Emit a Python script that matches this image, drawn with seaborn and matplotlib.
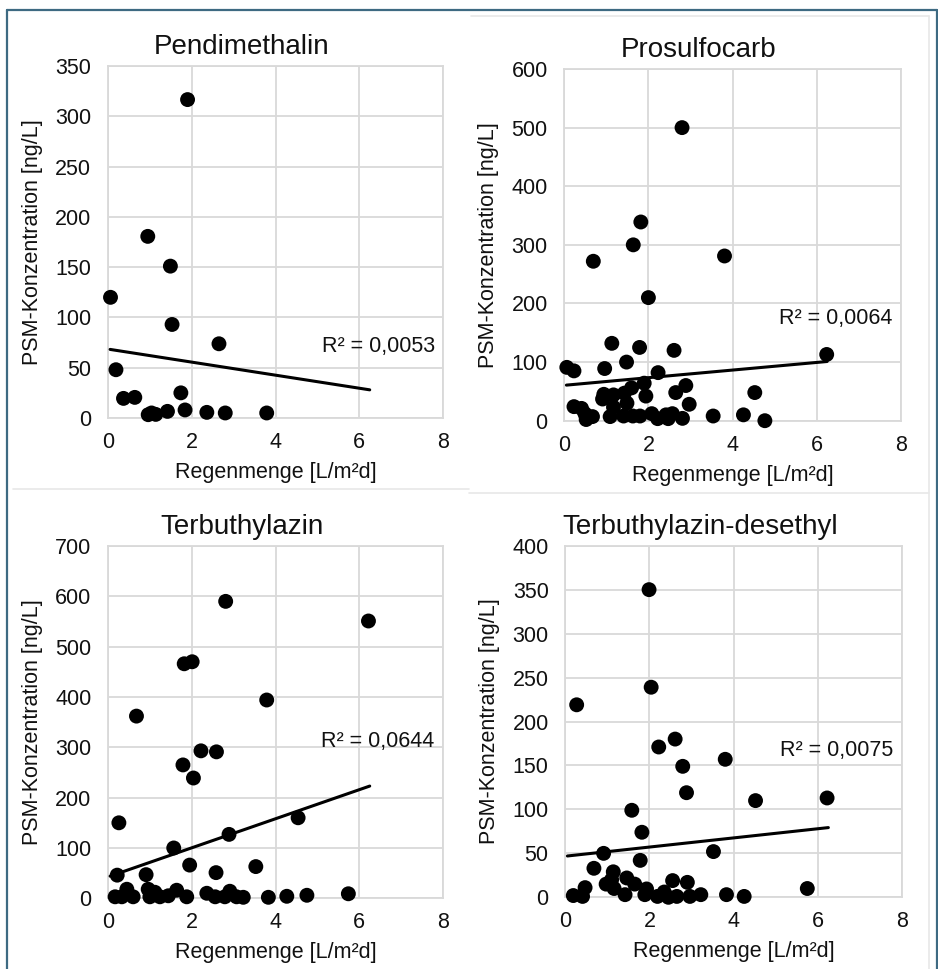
import numpy as np
import pandas as pd
import matplotlib
matplotlib.use('Agg')
import matplotlib.pyplot as plt
import seaborn as sns
from matplotlib.lines import Line2D

# ==============================================================================
# DATA
# ==============================================================================
pendi_x = [0.06, 0.19, 0.37, 0.64, 0.95, 0.96, 1.04, 1.14, 1.42, 1.49, 1.53, 1.74,
           1.84, 1.90, 2.36, 2.65, 2.80, 3.79]
pendi_y = [120, 48, 19.5, 20.5, 180.6, 3.3, 5, 3.6, 6.6, 151, 93, 25,
           8, 316.6, 5.6, 73.8, 5, 5]

prosulf_x = [2.80, 1.82, 1.64, 0.69, 3.81, 2.00, 1.13, 1.79, 2.61, 6.24, 0.06, 0.23,
             0.96, 1.48, 2.23, 1.90, 1.60, 2.89, 2.65, 4.53, 1.94, 0.94, 1.17, 0.91,
             1.43, 1.49, 2.97, 0.23, 0.41, 0.49, 0.67, 0.52, 1.09, 1.17, 1.41, 1.63,
             1.80, 2.08, 2.22, 2.42, 2.47, 2.57, 2.81, 3.54, 4.26, 4.77]
prosulf_y = [500, 339, 300, 272, 281, 210, 132, 125, 120, 113, 91, 85,
             89, 100, 82, 64, 56, 60, 48, 48, 42, 45, 44, 37,
             47, 30, 28, 24, 21, 12, 7, 2, 7, 23, 8, 8,
             8, 12, 3.5, 10, 3.5, 12, 4, 8, 10, 0]

terbu_x = [2.81, 6.22, 1.82, 2.01, 3.79, 0.68, 2.22, 2.59, 1.79, 2.04, 0.26, 4.54,
           2.89, 1.57, 1.95, 3.53, 2.58, 0.22, 0.91,
           0.17, 0.33, 0.45, 0.60, 0.96, 1.00, 1.12, 1.24, 1.44, 1.64, 1.88, 2.36,
           2.56, 2.79, 2.91, 3.07, 3.23, 3.83, 4.27, 4.75, 5.74]
terbu_y = [590, 551, 466, 470, 394, 362, 293, 291, 265, 239, 150, 160,
           127, 100, 66, 63, 51, 46, 47,
           3, 3, 18, 3, 18, 3, 12, 3, 5, 16, 3, 10,
           3, 3, 14, 3, 2, 2, 4, 6, 9]

desethyl_x = [1.99, 2.04, 0.27, 2.61, 2.22, 3.80, 2.79, 2.88, 4.52, 6.22, 1.58, 1.82,
              0.91, 3.52, 1.78, 0.68, 1.14, 5.75,
              0.19, 0.41, 0.47, 0.97, 1.10, 1.16, 1.42, 1.46, 1.65, 1.89, 1.93, 2.19,
              2.35, 2.45, 2.55, 2.65, 2.90, 2.96, 3.22, 3.83, 4.25]
desethyl_y = [350, 239, 219, 180, 171, 157, 149, 119, 110, 113, 99, 74,
              50, 52, 42, 33, 29, 10,
              2, 1, 11, 15, 20, 10, 3, 22, 15, 3, 9.5, 1,
              6, 0, 19, 1, 17, 1, 3, 3, 1]

# linear trend lines (endpoints)
trend_x = [0.05, 6.25]
pendi_trend = [68.2, 28]
prosulf_trend = [60.7, 101]
terbu_trend = [44, 223]
desethyl_trend = [47, 79.3]

titles = ['Pendimethalin', 'Prosulfocarb', 'Terbuthylazin', 'Terbuthylazin-desethyl']
r2_labels = ['R² = 0,0053', 'R² = 0,0064', 'R² = 0,0644', 'R² = 0,0075']
r2_y = [70.6, 175, 311, 166.6]
y_max = [350, 600, 700, 400]
y_step = [50, 100, 100, 50]

panels = [
    (pendi_x, pendi_y, pendi_trend),
    (prosulf_x, prosulf_y, prosulf_trend),
    (terbu_x, terbu_y, terbu_trend),
    (desethyl_x, desethyl_y, desethyl_trend),
]

# ==============================================================================
# STYLE
# ==============================================================================
sns.set_style('white')
plt.rcParams['font.family'] = ['Liberation Sans', 'DejaVu Sans']

W, H = 938, 969
fig = plt.figure(figsize=(W / 100, H / 100), dpi=100)

# axes boxes in pixels: left, top, right, bottom
boxes = [
    (108, 66, 443, 418),
    (564.3, 69, 900.7, 420.7),
    (108, 546, 443, 898.3),
    (565.3, 545.7, 902, 897.3),
]

GRID = '#D9D9D9'
TXT = '#111111'

for i, (xs, ys, trend) in enumerate(panels):
    l, t, r, b = boxes[i]
    ax = fig.add_axes([l / W, 1 - b / H, (r - l) / W, (b - t) / H])
    df = pd.DataFrame({'x': xs, 'y': ys})
    sns.scatterplot(data=df, x='x', y='y', ax=ax, color='black', s=115,
                    edgecolor='none', clip_on=False, zorder=3)
    tdf = pd.DataFrame({'x': trend_x, 'y': trend})
    sns.lineplot(data=tdf, x='x', y='y', ax=ax, color='black', lw=2.2, zorder=4)

    ax.set_xlim(0, 8)
    ax.set_ylim(0, y_max[i])
    ax.set_xticks(np.arange(0, 9, 2))
    ax.set_yticks(np.arange(0, y_max[i] + 1, y_step[i]))
    ax.grid(True, color=GRID, lw=1.3)
    ax.set_axisbelow(True)
    for sp in ax.spines.values():
        sp.set_color(GRID)
        sp.set_linewidth(1.3)
    ax.tick_params(length=0, labelsize=15.5, colors=TXT)
    ax.tick_params(axis='x', pad=10)
    ax.tick_params(axis='y', pad=12)

    ax.set_xlabel('Regenmenge [L/m²d]', fontsize=15.5, color=TXT)
    ax.set_ylabel('PSM-Konzentration [ng/L]', fontsize=15.5, color=TXT)
    ax.xaxis.set_label_coords(0.5, -0.125)
    ax.yaxis.set_label_coords(-0.195, 0.5)

    ax.text(0.40, 1 + 12 / (b - t), titles[i], transform=ax.transAxes,
            ha='center', va='baseline', fontsize=20, color=TXT)
    ax.text(7.8, r2_y[i], r2_labels[i], ha='right', va='center',
            fontsize=15.5, color=TXT)

# ==============================================================================
# FRAME AND CHART BORDERS
# ==============================================================================
def hline(y, x0, x1, color, lw):
    fig.add_artist(Line2D([x0 / W, x1 / W], [1 - y / H, 1 - y / H],
                          transform=fig.transFigure, color=color, lw=lw))

def vline(x, y0, y1, color, lw):
    fig.add_artist(Line2D([x / W, x / W], [1 - y0 / H, 1 - y1 / H],
                          transform=fig.transFigure, color=color, lw=lw))

LIGHT = '#E8E8E8'
hline(489, 13, 469, LIGHT, 1.2)
hline(493, 469, 929, LIGHT, 1.2)
hline(16, 471, 929, LIGHT, 1.2)
vline(929, 16, 969, LIGHT, 1.2)

FRAME = '#3E6A82'
hline(10, 6.5, 937, FRAME, 1.6)
vline(7, 10, 969, FRAME, 1.6)
vline(936.5, 10, 969, FRAME, 1.6)

plt.savefig('out.png', dpi=100)
plt.close()
